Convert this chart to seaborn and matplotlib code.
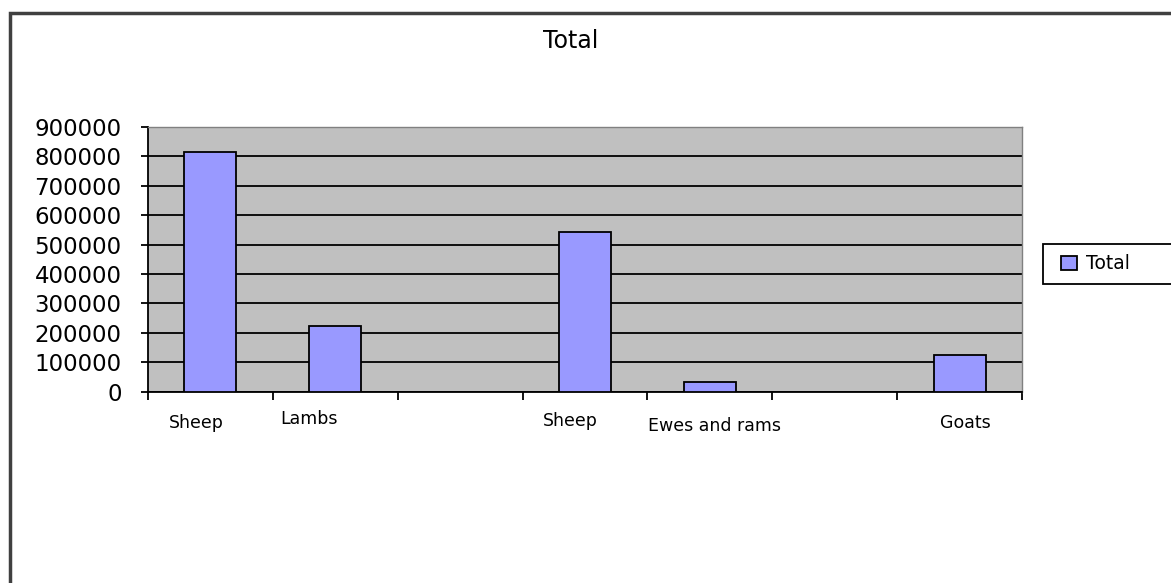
import matplotlib
matplotlib.use("Agg")
import matplotlib.pyplot as plt
import matplotlib.transforms as mtransforms
from matplotlib.patches import Rectangle
from matplotlib.legend_handler import HandlerPatch
import numpy as np
import pandas as pd
import seaborn as sns

# Livestock totals per category (empty slots have no bar)
categories = ["Sheep", "Lambs", "", "Sheep", "Ewes and rams", "", "Goats"]
totals = [816000, 223000, np.nan, 544000, 34000, np.nan, 125000]
y_ticks = [0, 100000, 200000, 300000, 400000, 500000, 600000, 700000, 800000, 900000]
y_tick_labels = [str(v) for v in y_ticks]
series_name = "Total"

# small nudges (px, right / down) for the category labels
label_dx = [-14, -26, 0, -15, 5, 0, 6]
label_dy = [0, -4, 0, -2, 3, 0, 0]

W, H = 1171, 583
fig = plt.figure(figsize=(W / 100, H / 100), dpi=100)
fig.patch.set_facecolor("white")
plt.rcParams["font.family"] = ["DejaVu Sans"]

ax = fig.add_axes([148 / W, 1 - 391.7 / H, (1022 - 148) / W, (391.7 - 127) / H])
ax.set_facecolor("#C0C0C0")

df = pd.DataFrame({"pos": list(range(len(categories))), "value": totals})
sns.barplot(data=df, x="pos", y="value", order=list(range(len(categories))),
            color="#9999FF", edgecolor="black", linewidth=1.3, width=0.417,
            saturation=1, label=series_name, ax=ax, zorder=3)

ax.set_xlim(-0.5, len(categories) - 0.5)
ax.set_ylim(y_ticks[0], y_ticks[-1])
ax.set_xlabel("")
ax.set_ylabel("")

# horizontal gridlines
ax.set_yticks(y_ticks)
ax.set_yticklabels(y_tick_labels, fontsize=16.5)
ax.yaxis.grid(True, color="black", linewidth=1.3, zorder=1)
ax.xaxis.grid(False)
ax.set_axisbelow(True)
ax.tick_params(axis="y", direction="out", length=5, width=1.3, color="black", pad=14)

# category labels at centres, tick marks at category boundaries
ax.set_xticks(range(len(categories)))
ax.set_xticklabels(categories, fontsize=12.5)
ax.tick_params(axis="x", which="major", length=0, pad=16)
ax.set_xticks(np.arange(-0.5, len(categories), 1.0), minor=True)
ax.tick_params(axis="x", which="minor", direction="out", length=6, width=1.3, color="black")
for lbl, dx, dy in zip(ax.get_xticklabels(), label_dx, label_dy):
    lbl.set_transform(lbl.get_transform() +
                      mtransforms.ScaledTranslation(dx / 100, -dy / 100, fig.dpi_scale_trans))

for side in ("left", "bottom"):
    ax.spines[side].set_color("black")
    ax.spines[side].set_linewidth(1.3)
for side in ("top", "right"):
    ax.spines[side].set_color("#808080")
    ax.spines[side].set_linewidth(1.0)

# title
fig.text(571 / W, 1 - 41 / H, series_name, ha="center", va="center", fontsize=17)


def style_from_first_bar(legend_handle, container):
    legend_handle.update_from(container.patches[0])


# legend box at the right; the swatch is inset a little from the frame
handles, labels = ax.get_legend_handles_labels()
leg = ax.legend(handles, labels, loc="upper left", mode="expand",
                bbox_to_anchor=(1043 / W, 1 - 250 / H, (1190 - 1043) / W, 0.01),
                bbox_transform=fig.transFigure, borderaxespad=0,
                fontsize=13.5, frameon=True, fancybox=False, framealpha=1,
                edgecolor="black", handlelength=1.28, handleheight=0.85,
                handletextpad=0.45, borderpad=0.55,
                handler_map={type(handles[0]): HandlerPatch(xpad=0.43,
                                                            update_func=style_from_first_bar)})
leg.get_frame().set_linewidth(1.3)

# outer chart border
fig.patches.append(Rectangle((9.5 / W, -0.2), 1.3, 1.2 - 13 / H,
                             transform=fig.transFigure, fill=False,
                             edgecolor="#404040", linewidth=2.5))

fig.savefig("out.png", dpi=100)
